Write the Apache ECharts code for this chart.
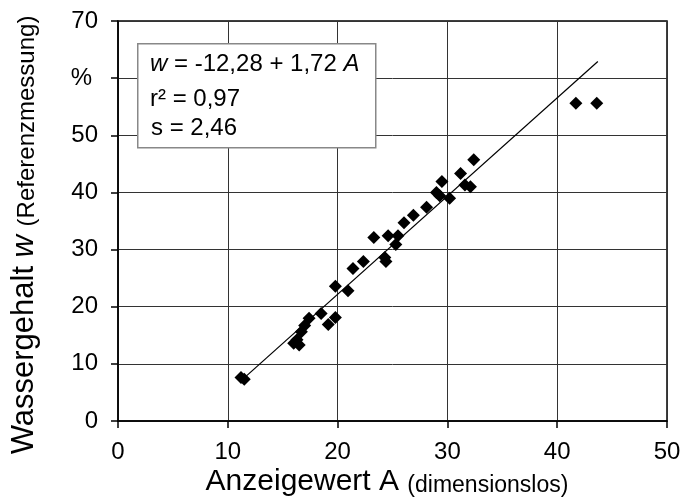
<!DOCTYPE html>
<html>
<head>
<meta charset="utf-8">
<script src="https://cdn.jsdelivr.net/npm/echarts@6/dist/echarts.min.js"></script>
<style>html,body{margin:0;padding:0;background:#fff}#c{width:684px;height:497px}</style>
</head>
<body>
<div id="c"></div>
<script>
// Messpunkte: Anzeigewert A (dimensionslos) und Wassergehalt w (%)
var anzeigewertA = [11.2, 11.5, 16.0, 16.3, 16.5, 16.7, 17.0, 17.4, 18.5, 19.15, 19.8, 19.8, 20.95, 21.4, 22.35, 23.3, 24.3, 24.4, 24.6, 25.3, 25.5, 26.05, 26.9, 28.1, 29.0, 29.3, 29.5, 30.2, 31.2, 31.6, 32.1, 32.4, 41.7, 43.6];
var wassergehaltW = [7.6, 7.3, 13.6, 14.2, 13.3, 15.6, 16.7, 18.0, 18.8, 16.9, 18.1, 23.6, 22.8, 26.7, 27.9, 32.1, 28.6, 27.9, 32.4, 30.9, 32.4, 34.7, 36.0, 37.4, 40.0, 39.4, 41.9, 39.0, 43.3, 41.3, 41.0, 45.7, 55.6, 55.6];
// Regressionsgerade w = -12,28 + 1,72 A (Endpunkte)
var lineA = [11.7, 43.7];
var lineW = [7.9, 62.9];
// Achsenbeschriftungen
var xTickLabels = ['0', '10', '20', '30', '40', '50'];
var yTickLabels = ['0', '10', '20', '30', '40', '50', '%', '70'];
var xTitle = 'Anzeigewert A';
var xTitleSub = '(dimensionslos)';
var yTitle = 'Wassergehalt ';
var yTitleVar = 'w';
var yTitleSub = '(Referenzmessung)';
var statLines = ['= -12,28 + 1,72 ', 'r² = 0,97', 's = 2,46'];

var FONT = '"Liberation Sans", Arial, sans-serif';
var points = anzeigewertA.map(function (a, i) { return [a, wassergehaltW[i]]; });
var linePts = lineA.map(function (a, i) { return [a, lineW[i]]; });

var chart = echarts.init(document.getElementById('c'), null, {renderer: 'canvas'});
chart.setOption({
  animation: false,
  backgroundColor: '#fff',
  grid: {left: 118, right: 17, top: 21, bottom: 76, show: true, borderColor: '#000', borderWidth: 1.5, containLabel: false},
  xAxis: {
    type: 'value', min: 0, max: 50, interval: 10,
    axisLine: {show: true, onZero: false, lineStyle: {color: '#000', width: 1.5}},
    axisTick: {show: true, inside: false, length: 7, lineStyle: {color: '#000', width: 1.5}},
    splitLine: {show: true, lineStyle: {color: '#333', width: 1}},
    axisLabel: {margin: 19, fontFamily: FONT, fontSize: 24, color: '#000',
      formatter: function (v) { return xTickLabels[Math.round(v / 10)]; }}
  },
  yAxis: {
    type: 'value', min: 0, max: 70, interval: 10,
    axisLine: {show: true, onZero: false, lineStyle: {color: '#000', width: 1.5}},
    axisTick: {show: true, inside: false, length: 7, lineStyle: {color: '#000', width: 1.5}},
    splitLine: {show: true, lineStyle: {color: '#333', width: 1}},
    axisLabel: {margin: 20, fontFamily: FONT, fontSize: 24, color: '#000',
      formatter: function (v) {
        var t = yTickLabels[Math.round(v / 10)];
        return t === '%' ? '{p|' + t + '}' : t;
      },
      rich: {p: {fontFamily: FONT, fontSize: 24, color: '#000', padding: [0, 6, 0, 0]}}
    }
  },
  series: [
    {
      type: 'line', data: linePts, symbol: 'none', z: 2,
      lineStyle: {color: '#000', width: 1.2}
    },
    {
      type: 'scatter', data: points, symbol: 'diamond', symbolSize: 13, z: 3,
      itemStyle: {color: '#000', opacity: 1}
    }
  ],
  graphic: [
    {
      type: 'rect', left: 137, top: 43, z: 10,
      shape: {width: 238, height: 104},
      style: {fill: '#fff', stroke: '#888', lineWidth: 1.5}
    },
    {
      type: 'text', x: 150, y: 64, z: 11,
      style: {
        text: '{i|w} ' + statLines[0] + '{i|A}',
        font: '24px ' + FONT, fill: '#000', verticalAlign: 'middle', align: 'left',
        rich: {i: {fontFamily: FONT, fontSize: 24, fontStyle: 'italic', fill: '#000'}}
      }
    },
    {
      type: 'text', x: 150, y: 99, z: 11,
      style: {text: statLines[1], font: '24px ' + FONT, fill: '#000', verticalAlign: 'middle', align: 'left'}
    },
    {
      type: 'text', x: 151, y: 128, z: 11,
      style: {text: statLines[2], font: '24px ' + FONT, fill: '#000', verticalAlign: 'middle', align: 'left'}
    },
    {
      type: 'text', x: 387, y: 482, z: 11,
      style: {
        text: '{m|' + xTitle + ' }{s|' + xTitleSub + '}',
        align: 'center', verticalAlign: 'middle', fill: '#000',
        rich: {
          m: {fontFamily: FONT, fontSize: 30, lineHeight: 30, verticalAlign: 'bottom', fill: '#000'},
          s: {fontFamily: FONT, fontSize: 23, lineHeight: 25, verticalAlign: 'bottom', fill: '#000'}
        }
      }
    },
    {
      type: 'text', x: 24, y: 235, rotation: Math.PI / 2, z: 11,
      style: {
        text: '{m|' + yTitle + '}{mi|' + yTitleVar + ' }{s|' + yTitleSub + '}',
        align: 'center', verticalAlign: 'middle', fill: '#000',
        rich: {
          m: {fontFamily: FONT, fontSize: 31, lineHeight: 31, verticalAlign: 'bottom', fill: '#000'},
          mi: {fontFamily: FONT, fontSize: 31, lineHeight: 31, fontStyle: 'italic', verticalAlign: 'bottom', fill: '#000'},
          s: {fontFamily: FONT, fontSize: 24, lineHeight: 26, verticalAlign: 'bottom', fill: '#000'}
        }
      }
    }
  ]
});
</script>
</body>
</html>
